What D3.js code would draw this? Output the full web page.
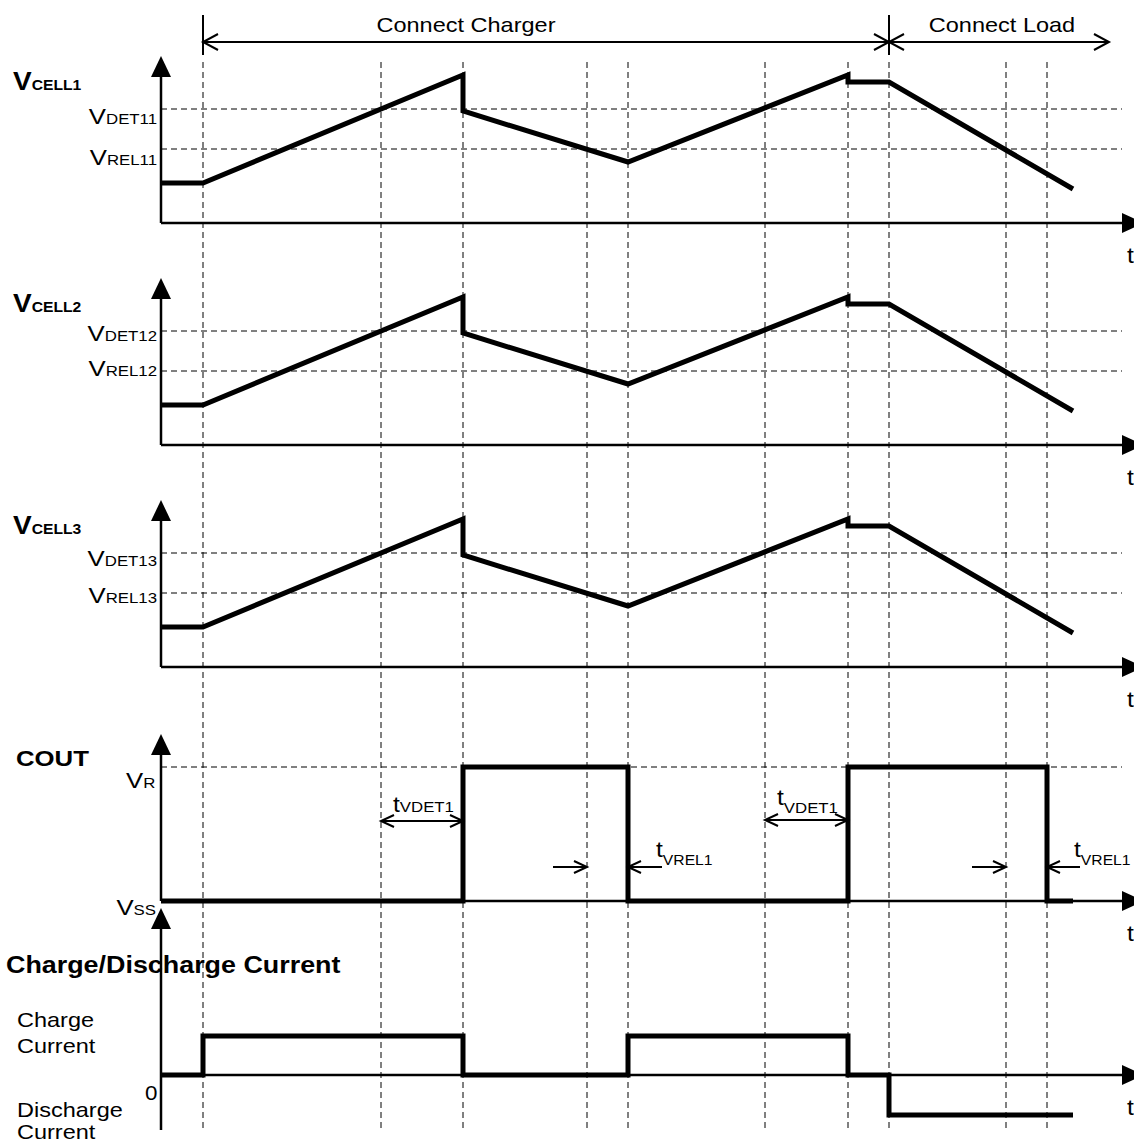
<!DOCTYPE html>
<html>
<head>
<meta charset="utf-8">
<script src="https://cdn.jsdelivr.net/npm/d3@7"></script>
<style>
  body { margin: 0; background: #fff; }
  svg { display: block; }
  text { font-family: "Liberation Sans", Arial, Helvetica, sans-serif; fill: #000; }
</style>
</head>
<body>
<div id="vis"></div>
<script>
// time units along the t axis (0 = the y axis)
var eventTimes = [42, 220, 302, 426, 467, 604, 687, 728, 845, 886];
var endTime = 912;

// cell voltage waveform (same shape for the three cells)
var cellTimes = [0, 42, 302, 302, 467, 687, 687, 728, endTime];
var cellValues = [40, 40, 148, 112, 61, 148, 141, 141, 34];
var vDet = 114, vRel = 74;
var cellNames = ["CELL1", "CELL2", "CELL3"];
var detNames = ["DET11", "DET12", "DET13"];
var relNames = ["REL11", "REL12", "REL13"];

// COUT output
var coutTimes = [0, 302, 302, 467, 467, 687, 687, 886, 886, endTime];
var coutValues = [0, 0, 134, 134, 0, 0, 134, 134, 0, 0];
var vR = 134;

// charge / discharge current
var currTimes = [0, 42, 42, 302, 302, 467, 467, 687, 687, 728, 728, endTime];
var currValues = [0, 0, 39, 39, 0, 0, 39, 39, 0, 0, -40, -40];

// header phases
var phases = ["Connect Charger", "Connect Load"];
var phaseBounds = [42, 728, 948];

var W = 1134, H = 1144, SX = 1.12;
var axisX = 161, axisEnd = 1122;
var cellAxisY = [223, 445, 667], coutAxisY = 901, currAxisY = 1075;
var dash = "6,4";

var x = d3.scaleLinear().domain([0, 961]).range([axisX, axisEnd]);
function yScale(base) { return d3.scaleLinear().domain([0, 166]).range([base, base - 166]); }

var svg = d3.select("#vis").append("svg").attr("width", W).attr("height", H);

function txt(px, py, parts, anchor) {
  var t = svg.append("text")
    .attr("transform", "translate(" + px + "," + py + ") scale(" + SX + ",1)")
    .attr("text-anchor", anchor || "start");
  parts.forEach(function(p) {
    t.append("tspan")
      .attr("font-size", p.size)
      .attr("font-weight", p.bold ? "bold" : "normal")
      .attr("dy", p.dy || 0)
      .text(p.text);
  });
  return t;
}

function openHead(px, py, dir, len, half) {
  // dir = +1 points right, -1 points left
  svg.append("path")
    .attr("d", "M" + (px - dir * len) + "," + (py - half) + "L" + px + "," + py + "L" + (px - dir * len) + "," + (py + half))
    .attr("fill", "none").attr("stroke", "#000").attr("stroke-width", 2);
}

function hline(x1, x2, py, w) {
  svg.append("line").attr("x1", x1).attr("x2", x2).attr("y1", py).attr("y2", py)
    .attr("stroke", "#000").attr("stroke-width", w || 2);
}

// vertical dashed event lines
svg.selectAll("line.event").data(eventTimes).enter().append("line")
  .attr("class", "event")
  .attr("x1", function(d) { return x(d); }).attr("x2", function(d) { return x(d); })
  .attr("y1", 62).attr("y2", 1129)
  .attr("stroke", "#000").attr("stroke-width", 1).attr("stroke-dasharray", dash);

// header
var hy = 42;
[phaseBounds[0], phaseBounds[1]].forEach(function(t) {
  svg.append("line").attr("x1", x(t)).attr("x2", x(t)).attr("y1", 15).attr("y2", 55)
    .attr("stroke", "#000").attr("stroke-width", 2);
});
hline(x(phaseBounds[0]), x(phaseBounds[2]), hy, 2);
openHead(x(phaseBounds[0]), hy, -1, 15, 8);
openHead(x(phaseBounds[1]), hy, 1, 15, 8);
openHead(x(phaseBounds[1]), hy, -1, 15, 8);
openHead(x(phaseBounds[2]), hy, 1, 15, 8);
txt(x(305), 32, [{ text: phases[0], size: 21 }], "middle");
txt(x(841), 32, [{ text: phases[1], size: 21 }], "middle");

function drawAxes(base, bottom) {
  svg.append("line").attr("x1", axisX).attr("x2", axisX).attr("y1", bottom).attr("y2", base - 148)
    .attr("stroke", "#000").attr("stroke-width", 2.5);
  svg.append("path")
    .attr("d", "M" + (axisX - 10) + "," + (base - 146) + "L" + axisX + "," + (base - 167) + "L" + (axisX + 10) + "," + (base - 146) + "Z")
    .attr("fill", "#000");
  hline(axisX, axisEnd + 2, base, 2.5);
  svg.append("path")
    .attr("d", "M" + axisEnd + "," + (base - 10) + "L" + (axisEnd + 22) + "," + base + "L" + axisEnd + "," + (base + 10) + "Z")
    .attr("fill", "#000");
  txt(1127, base + 40, [{ text: "t", size: 22 }]);
}

function dashedLevel(y, v) {
  svg.append("line").attr("x1", axisX).attr("x2", axisEnd).attr("y1", y(v)).attr("y2", y(v))
    .attr("stroke", "#000").attr("stroke-width", 1).attr("stroke-dasharray", dash);
}

function wave(times, values, y) {
  var line = d3.line().x(function(d) { return x(d[0]); }).y(function(d) { return y(d[1]); });
  svg.append("path").datum(d3.zip(times, values))
    .attr("d", line)
    .attr("fill", "none").attr("stroke", "#000").attr("stroke-width", 5)
    .attr("stroke-linejoin", "miter").attr("stroke-linecap", "butt");
}

// cell panels
var detDy = [15, 10, 13], relDy = [16, 5, 10];
cellAxisY.forEach(function(base, i) {
  var y = yScale(base);
  dashedLevel(y, vDet);
  dashedLevel(y, vRel);
  drawAxes(base, base);
  wave(cellTimes, cellValues, y);
  txt(13, base - 133, [{ text: "V", size: 25, bold: true }, { text: cellNames[i], size: 14, bold: true }]);
  txt(157, y(vDet) + detDy[i], [{ text: "V", size: 23 }, { text: detNames[i], size: 15 }], "end");
  txt(157, y(vRel) + relDy[i], [{ text: "V", size: 23 }, { text: relNames[i], size: 15 }], "end");
});

// COUT panel
var yc = yScale(coutAxisY);
dashedLevel(yc, vR);
drawAxes(coutAxisY, coutAxisY);
wave(coutTimes, coutValues, yc);
txt(16, 766, [{ text: "COUT", size: 23, bold: true }]);
txt(126, 788, [{ text: "V", size: 23 }, { text: "R", size: 15 }]);
txt(156, 915, [{ text: "V", size: 23 }, { text: "SS", size: 15 }], "end");

// timing annotations on COUT
var detArrows = [[220, 302, 80], [604, 687, 81]];
detArrows.forEach(function(a) {
  hline(x(a[0]), x(a[1]), yc(a[2]), 2);
  openHead(x(a[0]), yc(a[2]), -1, 13, 6);
  openHead(x(a[1]), yc(a[2]), 1, 13, 6);
});
txt(x(232), yc(89), [{ text: "t", size: 22 }, { text: "VDET1", size: 15 }]);
txt(x(616), yc(96), [{ text: "t", size: 22 }, { text: "VDET1", size: 15, dy: 8 }]);

var relArrows = [[392, 426, 467, 501], [811, 845, 886, 919]];
relArrows.forEach(function(a) {
  var ry = yc(34);
  hline(x(a[0]), x(a[1]), ry, 2);
  openHead(x(a[1]), ry, 1, 13, 6);
  hline(x(a[2]), x(a[3]), ry, 2);
  openHead(x(a[2]), ry, -1, 13, 6);
  txt(x(a[3]) - 6, yc(44), [{ text: "t", size: 22 }, { text: "VREL1", size: 14, dy: 8 }]);
});

// charge / discharge current panel
var yi = yScale(currAxisY);
drawAxes(currAxisY, 1130);
wave(currTimes, currValues, yi);
txt(6, 973, [{ text: "Charge/Discharge Current", size: 24, bold: true }]);
txt(17, 1027, [{ text: "Charge", size: 21 }]);
txt(17, 1053, [{ text: "Current", size: 21 }]);
txt(145, 1100, [{ text: "0", size: 20 }]);
txt(17, 1117, [{ text: "Discharge", size: 21 }]);
txt(17, 1139, [{ text: "Current", size: 21 }]);
</script>
</body>
</html>
